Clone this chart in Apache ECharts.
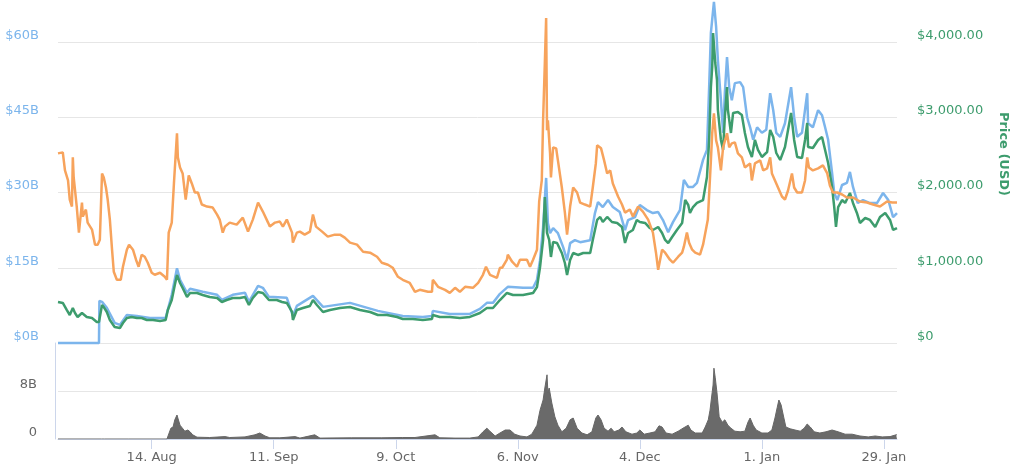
<!DOCTYPE html>
<html>
<head>
<meta charset="utf-8">
<script src="https://cdn.jsdelivr.net/npm/echarts@6/dist/echarts.min.js"></script>
<style>
html,body{margin:0;padding:0;background:#fff;}
#chart{width:1024px;height:469px;}
</style>
</head>
<body>
<div id="chart"></div>
<script>
// ---- data (day offset from 2017-07-23, value) ----
const startDate = '2017-07-23';
const endDay = 193;
const tickDates = ['2017-08-14','2017-09-11','2017-10-09','2017-11-06','2017-12-04','2018-01-01','2018-01-29'];
const tickLabels = ['14. Aug','11. Sep','9. Oct','6. Nov','4. Dec','1. Jan','29. Jan'];

// Market cap, billions USD
const marketCap = [
[0.5,0],[9.9,0],[10.0,8.4],[10.6,8.2],[11.7,7.0],[13.5,4.0],[14.7,3.6],[16.3,5.6],[18.6,5.4],[21.6,5.0],[25.2,5.0],
[26.6,9.6],[27.8,14.9],[28.5,12.6],[30.1,10.0],[30.8,10.8],[33.7,10.2],[37.0,9.6],[38.1,8.6],[40.6,9.6],[43.4,10.0],
[44.3,8.2],[46.4,11.4],[47.5,11.0],[48.9,9.2],[49.1,9.4],[53.0,9.0],[54.4,5.4],[55.3,7.4],[59.0,9.4],[61.3,7.2],
[67.5,8.0],[73.9,6.4],[79.6,5.4],[84.2,5.2],[86.3,5.4],[86.5,6.4],[90.4,5.8],[95.0,5.8],[97.3,6.8],[98.9,8.0],
[100.3,8.0],[101.9,9.8],[103.7,11.2],[107.2,11.0],[109.5,11.0],[110.4,12.6],[111.1,16.5],[111.8,23.1],[112.5,32.9],
[112.9,23.9],[113.4,21.9],[114.1,22.9],[115.2,21.9],[116.4,19.1],[117.3,16.5],[118.0,19.9],[119.1,20.5],[120.3,20.1],
[122.6,20.5],[123.7,25.9],[124.4,28.1],[125.5,27.1],[126.7,28.5],[127.8,27.1],[129.4,26.1],[130.6,22.5],[131.3,24.5],
[132.9,25.1],[134.0,27.5],[135.6,26.5],[137.0,25.9],[138.2,26.1],[139.3,24.5],[140.5,22.1],[141.6,24.1],[143.2,26.5],
[144.1,32.5],[145.1,31.1],[146.2,31.1],[147.1,31.9],[148.5,36.5],[149.4,38.5],[149.9,51.0],[150.3,61.8],[151.0,68.0],
[151.5,63.0],[151.9,56.4],[152.6,48.4],[153.1,41.9],[153.5,49.8],[154.0,57.0],[154.5,51.0],[155.1,48.4],[155.8,51.8],
[157.0,52.0],[157.7,51.0],[158.6,45.0],[159.3,43.0],[160.0,40.5],[160.9,43.0],[162.0,41.9],[163.0,42.5],[163.9,49.8],
[164.6,46.4],[165.3,41.9],[166.2,41.1],[167.3,43.8],[168.7,51.0],[169.4,45.0],[170.1,41.1],[171.2,41.9],[172.4,49.8],
[172.6,43.8],[173.7,43.0],[174.9,46.4],[175.8,45.4],[176.5,43.0],[177.2,40.5],[178.1,33.9],[178.6,29.9],[179.3,28.5],
[180.4,31.5],[181.5,31.9],[182.2,34.1],[182.9,31.1],[184.0,27.9],[185.2,28.5],[186.8,27.9],[188.4,27.9],[189.8,29.9],
[191.0,28.5],[192.1,25.1],[193.0,25.9]
];

// Price, USD
const priceUsd = [
[0.5,545],[1.6,532],[2.5,439],[3.2,372],[3.9,465],[4.4,399],[5.0,346],[6.0,399],[7.1,346],[8.3,332],[9.4,279],[9.9,279],
[10.6,505],[11.0,478],[11.7,412],[12.4,306],[13.5,213],[14.7,199],[15.4,266],[16.3,332],[17.4,346],[18.6,332],[19.7,332],
[20.9,306],[22.3,306],[23.9,292],[25.2,306],[25.7,439],[26.6,571],[27.3,771],[27.8,904],[28.5,797],[29.1,731],[30.1,611],
[30.8,665],[32.4,665],[33.7,638],[35.3,611],[37.0,598],[38.1,545],[39.2,571],[40.6,598],[42.2,598],[43.4,611],[44.3,505],
[45.2,598],[46.4,678],[47.5,665],[48.9,571],[50.7,571],[51.9,545],[53.0,532],[54.2,412],[54.4,306],[55.3,439],[56.7,465],
[58.3,492],[59.0,571],[59.9,505],[61.3,412],[62.9,439],[65.2,465],[67.5,478],[69.8,439],[72.1,412],[73.9,372],[76.0,372],
[78.3,346],[79.6,319],[81.9,319],[84.2,306],[86.3,319],[86.5,372],[88.1,346],[90.4,346],[92.7,332],[95.0,346],[97.3,399],
[98.9,465],[100.3,465],[101.9,571],[103.5,665],[104.9,638],[107.2,638],[109.5,665],[110.4,744],[111.1,1010],[111.8,1369],
[112.2,1940],[112.7,1462],[113.2,1369],[113.6,1143],[114.1,1342],[115.0,1329],[116.1,1196],[116.8,1063],[117.3,904],
[118.0,1103],[118.7,1196],[119.8,1170],[121.0,1196],[122.6,1196],[123.2,1369],[124.2,1635],[124.9,1675],[125.5,1608],
[126.5,1675],[127.6,1608],[128.8,1595],[129.9,1542],[130.6,1329],[131.3,1462],[132.4,1502],[133.3,1635],[134.0,1608],
[135.2,1595],[136.3,1528],[137.0,1502],[138.2,1542],[139.1,1462],[139.8,1369],[140.5,1329],[141.4,1409],[142.5,1502],
[143.7,1595],[144.4,1900],[145.1,1834],[145.5,1728],[146.2,1807],[147.1,1861],[148.5,1900],[149.4,2206],[149.9,2698],
[150.3,3402],[150.6,3668],[150.8,4120],[151.3,3721],[151.7,3495],[151.9,3097],[152.6,2698],[153.1,2565],[153.5,3003],
[154.0,3402],[154.2,3097],[154.9,2791],[155.4,3057],[156.5,3070],[157.4,3030],[158.1,2791],[158.8,2605],[159.7,2472],
[160.4,2698],[161.1,2565],[162.0,2472],[163.2,2538],[163.9,2831],[164.6,2738],[165.3,2525],[166.2,2432],[167.3,2605],
[168.0,2831],[168.7,3057],[169.4,2698],[170.1,2472],[171.2,2459],[171.9,2698],[172.4,2924],[172.6,2605],[173.7,2592],
[174.9,2698],[175.8,2738],[176.5,2565],[177.2,2392],[178.1,2073],[178.6,1807],[179.0,1542],[179.5,1807],[180.4,1900],
[181.1,1861],[182.2,1994],[182.9,1861],[183.8,1728],[184.5,1595],[185.7,1661],[186.8,1635],[188.0,1542],[189.1,1675],
[190.3,1728],[191.4,1635],[192.1,1502],[193.0,1528]
];

// Price, BTC
const priceBtc = [
[0.5,0.189],[1.6,0.190],[2.1,0.172],[2.8,0.162],[3.2,0.143],[3.7,0.136],[3.9,0.185],[4.1,0.165],[4.8,0.136],[5.3,0.110],
[6.0,0.140],[6.2,0.126],[6.9,0.133],[7.3,0.120],[8.3,0.113],[9.0,0.098],[9.6,0.098],[10.1,0.103],[10.6,0.169],[11.0,0.165],
[11.5,0.155],[11.9,0.143],[12.4,0.123],[12.9,0.093],[13.3,0.071],[14.0,0.063],[14.9,0.063],[15.4,0.076],[16.3,0.093],
[16.8,0.098],[17.7,0.093],[18.4,0.083],[19.0,0.076],[19.7,0.088],[20.4,0.086],[21.1,0.080],[22.0,0.070],[22.7,0.068],
[23.9,0.070],[25.0,0.066],[25.5,0.063],[25.9,0.110],[26.6,0.120],[27.1,0.159],[27.8,0.209],[28.0,0.185],[28.5,0.175],
[29.1,0.169],[29.8,0.143],[30.5,0.167],[31.2,0.159],[31.9,0.150],[32.6,0.150],[33.5,0.138],[34.7,0.136],[36.0,0.135],
[37.0,0.128],[37.6,0.123],[38.3,0.110],[38.8,0.116],[39.9,0.120],[41.5,0.118],[42.9,0.125],[44.1,0.111],[45.2,0.123],
[46.4,0.140],[47.5,0.131],[48.7,0.120],[49.1,0.116],[50.3,0.120],[51.4,0.121],[52.1,0.116],[53.0,0.123],[54.2,0.110],
[54.4,0.100],[55.3,0.110],[56.0,0.111],[57.1,0.108],[58.3,0.111],[59.0,0.128],[59.7,0.116],[61.1,0.111],[62.4,0.106],
[64.0,0.108],[65.2,0.108],[66.3,0.105],[67.5,0.100],[69.1,0.098],[70.5,0.091],[72.1,0.090],[73.7,0.086],[74.8,0.080],
[76.2,0.078],[77.3,0.075],[78.5,0.066],[79.6,0.063],[81.2,0.060],[82.4,0.051],[83.5,0.053],[85.4,0.051],[86.3,0.051],
[86.5,0.063],[87.7,0.056],[89.3,0.053],[90.4,0.050],[91.6,0.055],[92.7,0.051],[93.9,0.056],[95.7,0.055],[96.9,0.060],
[98.0,0.068],[98.7,0.076],[99.6,0.068],[101.2,0.065],[101.9,0.075],[102.4,0.075],[103.5,0.083],[103.7,0.088],[104.7,0.081],
[105.8,0.076],[106.5,0.083],[108.1,0.083],[108.8,0.076],[109.5,0.083],[110.4,0.093],[110.9,0.141],[111.5,0.162],
[111.8,0.222],[112.2,0.279],[112.5,0.324],[112.7,0.212],[112.9,0.222],[113.4,0.189],[113.6,0.165],[114.1,0.195],
[114.8,0.194],[115.2,0.182],[116.1,0.155],[116.8,0.130],[117.3,0.108],[118.0,0.136],[118.7,0.155],[119.6,0.150],
[120.3,0.140],[121.4,0.138],[122.6,0.136],[123.2,0.155],[123.9,0.179],[124.2,0.197],[125.1,0.194],[125.8,0.182],
[126.5,0.169],[127.2,0.172],[127.8,0.159],[129.0,0.146],[129.9,0.138],[130.6,0.130],[131.7,0.133],[132.4,0.126],
[133.6,0.136],[134.7,0.131],[135.9,0.123],[137.0,0.110],[137.7,0.090],[138.2,0.073],[139.1,0.093],[139.8,0.090],
[140.9,0.083],[141.6,0.080],[142.8,0.086],[143.7,0.090],[144.1,0.096],[144.8,0.110],[145.3,0.100],[146.0,0.093],
[146.7,0.090],[147.8,0.088],[148.5,0.098],[149.6,0.123],[150.3,0.182],[150.6,0.209],[151.0,0.229],[151.5,0.202],
[151.9,0.195],[152.6,0.172],[153.1,0.195],[154.0,0.209],[154.5,0.195],[155.1,0.199],[155.8,0.200],[156.5,0.189],
[157.4,0.185],[158.1,0.175],[159.3,0.179],[159.7,0.162],[160.4,0.179],[161.6,0.182],[162.3,0.172],[163.2,0.174],
[163.9,0.185],[164.3,0.169],[165.0,0.162],[165.7,0.155],[166.6,0.146],[167.3,0.143],[168.0,0.152],[168.9,0.169],
[169.4,0.155],[170.1,0.150],[171.2,0.150],[171.9,0.162],[172.4,0.185],[172.8,0.175],[173.7,0.172],[174.9,0.174],
[176.0,0.177],[177.0,0.169],[177.6,0.157],[178.3,0.150],[179.3,0.150],[180.4,0.148],[181.5,0.145],[182.9,0.145],
[184.5,0.141],[186.1,0.140],[187.5,0.138],[189.1,0.136],[190.7,0.141],[191.9,0.140],[193.0,0.140]
];

// 24h volume, billions USD
const volume = [
[0.5,0],[10.5,0],[10.8,0.2],[11.2,0],[16.1,0],[16.3,0.2],[16.6,0],[25.5,0],[26.4,1.8],[26.9,2.0],[27.3,3.2],[27.8,4.0],
[28.0,3.5],[28.5,2.3],[28.9,2.0],[29.6,1.3],[30.3,1.5],[30.8,1.2],[31.4,0.7],[32.4,0.3],[35.3,0.25],[38.8,0.4],[39.9,0.25],
[43.4,0.35],[45.7,0.7],[46.8,1.0],[48.0,0.5],[49.1,0.2],[51.4,0.2],[54.9,0.4],[56.0,0.15],[59.4,0.7],[60.6,0.15],[67.9,0.2],
[74.8,0.2],[79.6,0.25],[82.4,0.25],[87.0,0.7],[88.1,0.2],[91.6,0.15],[95.0,0.15],[96.9,0.35],[98.0,1.2],[98.9,1.8],
[99.6,1.3],[100.8,0.5],[101.9,1.0],[103.1,1.5],[104.2,1.5],[105.3,0.8],[106.5,0.5],[108.1,0.35],[109.2,0.8],[110.4,2.3],
[111.1,4.8],[111.8,6.5],[112.2,8.5],[112.7,10.7],[112.9,7.8],[113.2,8.5],[113.8,6.0],[114.5,3.7],[115.2,2.3],[116.1,1.2],
[117.1,1.8],[118.0,3.2],[118.7,3.5],[119.6,1.8],[120.7,1.0],[121.9,0.7],[123.0,1.2],[123.9,3.5],[124.4,4.0],[125.1,3.2],
[125.8,1.8],[126.7,1.3],[127.4,1.8],[128.1,1.2],[129.2,1.5],[129.9,2.0],[130.8,1.2],[132.2,0.8],[133.3,1.0],[134.0,1.5],
[135.0,0.8],[136.3,1.0],[137.5,1.2],[138.4,2.2],[139.1,2.0],[140.0,1.0],[141.4,0.8],[142.8,1.3],[143.9,1.8],[145.1,2.3],
[145.7,1.5],[146.7,1.0],[148.3,1.0],[149.0,2.0],[149.7,3.2],[150.1,4.8],[150.6,7.8],[150.8,9.0],[151.0,11.8],[151.3,10.2],
[151.7,7.7],[152.2,3.7],[152.9,2.8],[153.5,3.2],[154.2,2.3],[154.9,1.8],[155.8,1.3],[157.0,1.2],[158.1,1.3],[158.8,2.8],
[159.3,3.5],[160.0,2.3],[160.7,1.5],[162.0,1.0],[163.4,1.0],[164.3,1.5],[165.0,3.5],[165.5,5.2],[165.9,6.5],[166.4,5.7],
[166.9,4.0],[167.5,2.0],[168.5,1.7],[169.6,1.5],[170.8,1.3],[171.7,1.8],[172.4,2.5],[173.1,2.0],[174.0,1.2],[175.3,1.0],
[176.7,1.2],[178.1,1.5],[179.5,1.2],[181.1,0.8],[182.7,0.8],[184.5,0.5],[186.4,0.35],[188.0,0.5],[189.6,0.35],[191.4,0.4],
[192.8,0.7],[193.0,0.7]
];

// ---- build ----
const DAY = 86400000;
const t0 = Date.parse(startDate + 'T00:00:00Z');
const tickDays = tickDates.map(d => Math.round((Date.parse(d + 'T00:00:00Z') - t0) / DAY));
const xMin = 0.5, xMax = endDay;

const FONT = 'DejaVu Sans';
const chart = echarts.init(document.getElementById('chart'));
chart.setOption({
  animation: false,
  backgroundColor: '#ffffff',
  grid: [
    {left: 58, right: 127, top: 42, height: 301},
    {left: 58, right: 127, top: 343, height: 96}
  ],
  xAxis: [
    {type: 'value', gridIndex: 0, min: xMin, max: xMax, show: false},
    {type: 'value', gridIndex: 1, min: xMin, max: xMax,
      axisLine: {show: true, lineStyle: {color: '#ccd6eb', width: 1}},
      axisTick: {show: true, customValues: tickDays, length: 10, lineStyle: {color: '#ccd6eb'}},
      splitLine: {show: false},
      axisLabel: {customValues: tickDays, margin: 12, color: '#666666', fontFamily: FONT, fontSize: 13,
        formatter: v => { const i = tickDays.indexOf(Math.round(v)); return i >= 0 ? tickLabels[i] : ''; }}
    }
  ],
  yAxis: [
    {type: 'value', gridIndex: 0, min: 0, max: 60, interval: 15, position: 'left',
      axisLine: {show: false}, axisTick: {show: false},
      splitLine: {lineStyle: {color: '#e6e6e6', width: 1}},
      axisLabel: {margin: 19, color: '#7cb5ec', fontFamily: FONT, fontSize: 13, verticalAlign: 'bottom',
        formatter: v => '$' + v + 'B'}},
    {type: 'value', gridIndex: 0, min: 0, max: 4000, interval: 1000, position: 'right',
      axisLine: {show: false}, axisTick: {show: false}, splitLine: {show: false},
      axisLabel: {margin: 20, color: '#3d9c6d', fontFamily: FONT, fontSize: 13, verticalAlign: 'bottom',
        formatter: v => v === 0 ? '$0' : '$' + v.toLocaleString('en-US', {minimumFractionDigits: 2, maximumFractionDigits: 2})}},
    {type: 'value', gridIndex: 0, min: 0, max: 0.3, show: false},
    {type: 'value', gridIndex: 1, min: 0, max: 16, interval: 8, position: 'left', offset: 3,
      axisLine: {show: true, lineStyle: {color: '#ccd6eb'}}, axisTick: {show: false},
      splitLine: {lineStyle: {color: '#e6e6e6', width: 1}},
      axisLabel: {margin: 18, color: '#666666', fontFamily: FONT, fontSize: 13, verticalAlign: 'bottom',
        showMaxLabel: false, formatter: v => v === 0 ? '0' : v + 'B'}}
  ],
  series: [
    {name: 'Market Cap', type: 'line', xAxisIndex: 0, yAxisIndex: 0, data: marketCap,
      showSymbol: false, clip: false, lineStyle: {color: '#7cb5ec', width: 2.5}, itemStyle: {color: '#7cb5ec'}},
    {name: 'Price (USD)', type: 'line', xAxisIndex: 0, yAxisIndex: 1, data: priceUsd,
      showSymbol: false, clip: false, lineStyle: {color: '#3d9c6d', width: 2.5}, itemStyle: {color: '#3d9c6d'}},
    {name: 'Price (BTC)', type: 'line', xAxisIndex: 0, yAxisIndex: 2, data: priceBtc,
      showSymbol: false, clip: false, lineStyle: {color: '#f7a35c', width: 2.5}, itemStyle: {color: '#f7a35c'}},
    {name: '24h Vol', type: 'line', xAxisIndex: 1, yAxisIndex: 3, data: volume,
      showSymbol: false, lineStyle: {color: '#666666', width: 1}, itemStyle: {color: '#666666'},
      areaStyle: {color: '#6a6a6a', opacity: 1}}
  ],
  graphic: [
    {type: 'text', x: 1003, y: 154, rotation: -Math.PI / 2,
      style: {text: 'Price (USD)', fill: '#3d9c6d', font: 'bold 13px "DejaVu Sans"', align: 'center', verticalAlign: 'middle'}}
  ]
});
</script>
</body>
</html>
